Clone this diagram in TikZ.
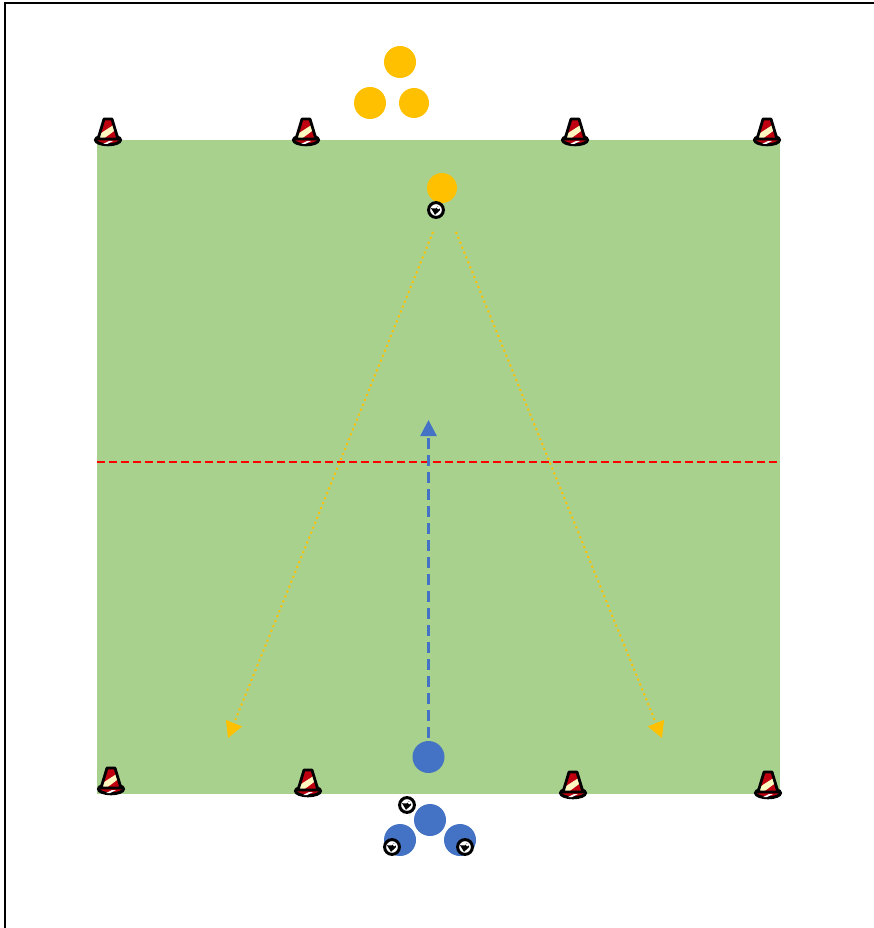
\documentclass[tikz,border=0pt]{standalone}
\usetikzlibrary{arrows.meta}
\definecolor{pitch}{HTML}{A9D18E}
\definecolor{teamy}{HTML}{FFC000}
\definecolor{teamb}{HTML}{4472C4}
\definecolor{stripe}{HTML}{FFF8C0}
\definecolor{conered}{HTML}{C00010}
\tikzset{
  x=1pt,y=-1pt,
  yplayer/.style={circle,fill=teamy,inner sep=0pt,minimum size=#1},
  bplayer/.style={circle,fill=teamb,inner sep=0pt,minimum size=#1},
  pass/.style={draw=teamy,line width=2pt,dash pattern=on 2pt off 3.3pt,-{Triangle[length=16pt,width=17pt,fill=teamy]}},
  run/.style={draw=teamb,line width=2.7pt,dash pattern=on 11pt off 6pt,-{Triangle[length=16pt,width=16pt,fill=teamb]}},
  midline/.style={draw=red,line width=1.8pt,dash pattern=on 7.5pt off 4.5pt},
  pics/cone/.style={code={
    \draw[black,line width=3pt,fill=conered] (0,0) ellipse [x radius=12.5,y radius=4.8];
    \fill[white] (-5,4) -- (-1,4) -- (5,1) -- (1,1) -- cycle;
    \begin{scope}
      \clip (-4,-21) -- (4,-21) -- (10,-1) -- (-10,-1) -- cycle;
      \fill[conered] (-12,-22) rectangle (12,1);
      \fill[stripe] (-10,-5) -- (5.5,-15) -- (7.5,-10) -- (-6,0) -- cycle;
    \end{scope}
    \draw[black,line width=2.8pt,line join=round] (-4,-21) -- (4,-21) -- (10,-1) -- (-10,-1) -- cycle;
  }},
  pics/ball/.style={code={
    \fill[white] (0,0) circle (8);
    \draw[black,line width=3pt] (0,0) circle (7.4);
    \fill[black] (-5,-1.8) -- (0,-1.5) -- (2,-4) -- (4.2,0) -- (1,3) -- (-1,4.8) -- cycle;
    \fill[white] (2.2,-2.2) circle (1.6);
  }}
}
\begin{document}
\begin{tikzpicture}
\useasboundingbox (0,0) rectangle (874,928);
\draw[black,line width=2.8pt] (5,928) -- (5,3) -- (874,3);
\fill[pitch] (97,140) rectangle (780,794);
\coordinate (midL) at (97,462);
\coordinate (midR) at (779,462);
\draw[midline] (midL) -- (midR);

\pic at (108,140) {cone};
\pic at (306,140) {cone};
\pic at (575,140) {cone};
\pic at (767,140) {cone};
\pic at (111,789) {cone};
\pic at (308,791) {cone};
\pic at (573,793) {cone};
\pic at (768,793) {cone};

\node[yplayer=32pt] (y1) at (400,62) {};
\node[yplayer=32pt] (y2) at (370,103) {};
\node[yplayer=30pt] (y3) at (414,103) {};
\node[yplayer=30pt] (y4) at (442,188) {};
\node[bplayer=32pt] (b1) at (428.5,757) {};
\node[bplayer=32pt] (b2) at (430,820) {};
\node[bplayer=32pt] (b3) at (400,840) {};
\node[bplayer=32pt] (b4) at (460,840) {};

\pic at (436,210) {ball};
\pic at (407,805) {ball};
\pic at (392,847) {ball};
\pic at (465,847) {ball};

\coordinate (passStartL) at (433,232);
\coordinate (passStartR) at (456,232);
\coordinate (passEndL) at (228,738);
\coordinate (passEndR) at (662,738);
\coordinate (runEnd) at (428.5,420);
\draw[pass] (passStartL) -- (passEndL);
\draw[pass] (passStartR) -- (passEndR);
\draw[run] (b1.north) ++(0,-3) -- (runEnd);
\end{tikzpicture}
\end{document}
